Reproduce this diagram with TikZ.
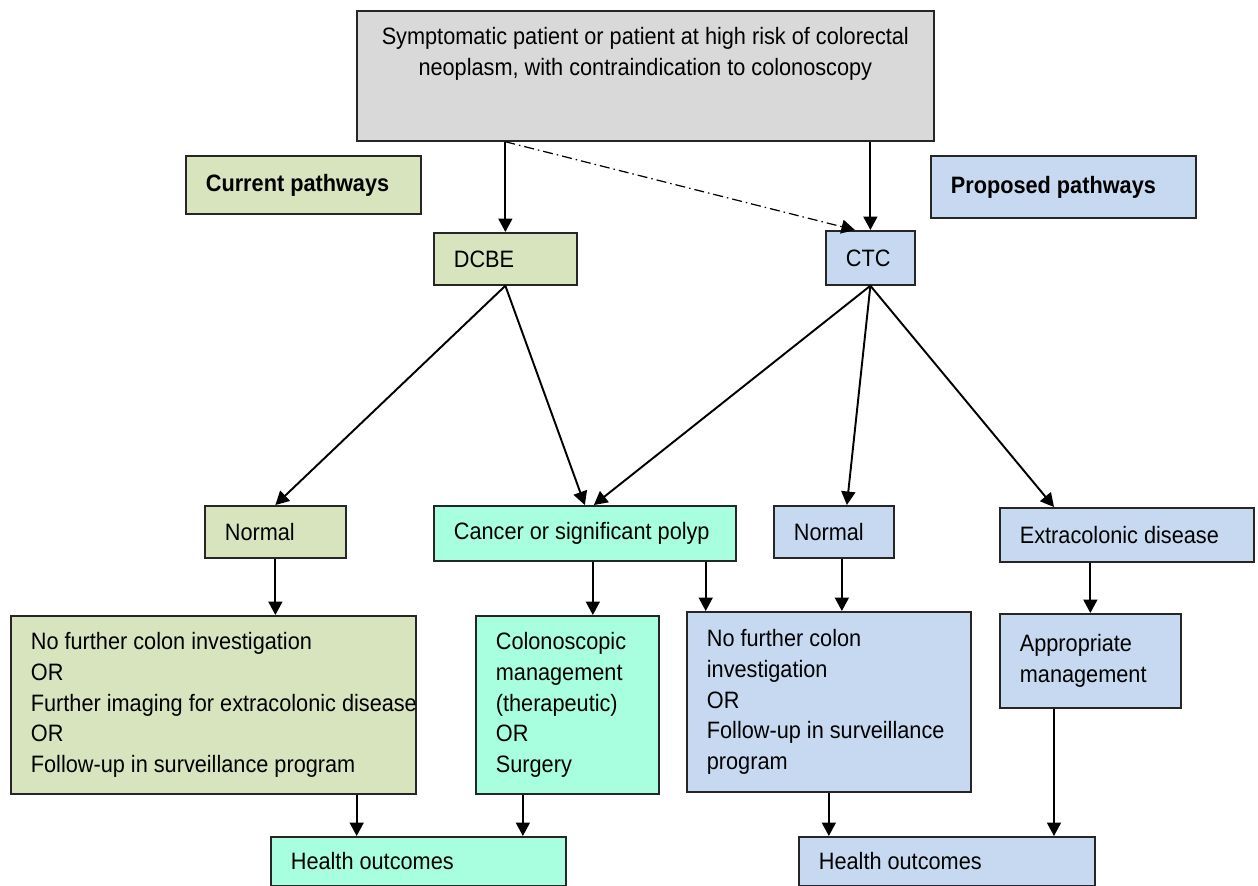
\documentclass[tikz,border=0pt]{standalone}
\usepackage{fontspec}
\setmainfont{Liberation Sans}[FakeStretch=0.915]
\usetikzlibrary{arrows.meta,calc}
\definecolor{boxgray}{RGB}{217,217,217}
\definecolor{curgreen}{RGB}{215,228,189}
\definecolor{mint}{RGB}{167,255,224}
\definecolor{propblue}{RGB}{198,217,241}

\begin{document}
\begin{tikzpicture}[x=0.02cm,y=-0.02cm,
    box/.style={draw=black!85,line width=1pt,anchor=north west,inner xsep=0.4cm,inner ysep=0pt,
      align=flush left,font=\fontsize{13.5}{17.6}\selectfont},
    arr/.style={line width=1.1pt,-{Triangle[length=0.27cm,width=0.28cm]}}]
        \useasboundingbox (0,0) rectangle (1258,886);
        % top
        \node[box,fill=boxgray,minimum width=11.54cm,minimum height=2.6cm,inner sep=0pt] (patient) at (356,10) {};
        \node[anchor=north,align=center,inner sep=0pt,font=\fontsize{13.5}{17.6}\selectfont] (patienttext)
            at ([yshift=-0.34cm]patient.north) {Symptomatic patient or patient at high risk of colorectal\\neoplasm, with contraindication to colonoscopy};
        \node[box,fill=curgreen,text width=3.9cm,minimum height=1.16cm] (current) at (185,155) {\bfseries Current pathways};
        \node[box,fill=propblue,text width=4.5cm,minimum height=1.24cm] (proposed) at (930,155) {\bfseries Proposed pathways};
        \node[box,fill=curgreen,text width=2.06cm,minimum height=1.04cm] (dcbe) at (433,232) {DCBE};
        \node[box,fill=propblue,text width=0.98cm,minimum height=1.08cm] (ctc) at (825,230) {CTC};
        % findings
        \node[box,fill=curgreen,text width=2.02cm,minimum height=1.04cm] (normalL) at (204,505) {Normal};
        \node[box,fill=mint,text width=5.24cm,minimum height=1.1cm] (cancer) at (433,505) {Cancer or significant polyp};
        \node[box,fill=propblue,text width=1.6cm,minimum height=1.04cm] (normalR) at (773,505) {Normal};
        \node[box,fill=propblue,text width=4.28cm,minimum height=1.08cm] (extra) at (999,507) {Extracolonic disease};
        % management
        \node[box,fill=curgreen,text width=7.3cm,minimum height=3.56cm] (mgmtL) at (10,615)
            {No further colon investigation\\OR\\\mbox{Further imaging for extracolonic disease}\\OR\\Follow-up in surveillance program};
        \node[box,fill=mint,text width=2.86cm,minimum height=3.56cm] (colono) at (475,615)
            {Colonoscopic\\management\\(therapeutic)\\OR\\Surgery};
        \node[box,fill=propblue,text width=4.88cm,minimum height=3.6cm] (mgmtR) at (686,611)
            {No further colon\\investigation\\OR\\\mbox{Follow-up in surveillance}\\program};
        \node[box,fill=propblue,text width=2.82cm,minimum height=1.88cm] (approp) at (999,613) {Appropriate\\management};
        % outcomes
        \node[box,fill=mint,text width=5.1cm,minimum height=0.98cm] (healthL) at (270,836) {Health outcomes};
        \node[box,fill=propblue,text width=5.12cm,minimum height=0.98cm] (healthR) at (798,836) {Health outcomes};

        \draw[arr] (patient.south -| dcbe.north) -- (dcbe.north);
        \draw[arr] (patient.south -| ctc.north) -- (ctc.north);
        \draw[arr,line width=0.7pt,dash pattern=on 0.2cm off 0.08cm on 0.03cm off 0.08cm]
            (patient.south -| dcbe.north) -- ($(ctc.north west)!0.33!(ctc.north east)$);
        \draw[arr] (dcbe.south) -- (normalL.north);
        \draw[arr] (dcbe.south) -- (cancer.north);
        \draw[arr] (ctc.south) -- ([xshift=0.18cm]cancer.north);
        \draw[arr] (ctc.south) -- ([xshift=0.26cm]normalR.north);
        \draw[arr] (ctc.south) -- ([xshift=1.1cm]extra.north west);
        \draw[arr] (normalL.south) -- (normalL.south |- mgmtL.north);
        \draw[arr] ([xshift=0.16cm]cancer.south) -- ([xshift=0.16cm]cancer.south |- colono.north);
        \draw[arr] ([xshift=-0.62cm]cancer.south east) -- ([xshift=-0.62cm]cancer.south east |- mgmtR.north);
        \draw[arr] ([xshift=0.16cm]normalR.south) -- ([xshift=0.16cm]normalR.south |- mgmtR.north);
        \draw[arr] (extra.south -| approp.north) -- (approp.north);
        \draw[arr] ([xshift=-1.2cm]mgmtL.south east) -- ([xshift=-1.2cm]mgmtL.south east |- healthL.north);
        \draw[arr] ([xshift=-0.89cm]colono.south) -- ([xshift=-0.89cm]colono.south |- healthL.north);
        \draw[arr] (mgmtR.south) -- (mgmtR.south |- healthR.north);
        \draw[arr] ([xshift=1.1cm]approp.south west) -- ([xshift=1.1cm]approp.south west |- healthR.north);
  \end{tikzpicture}
\end{document}
